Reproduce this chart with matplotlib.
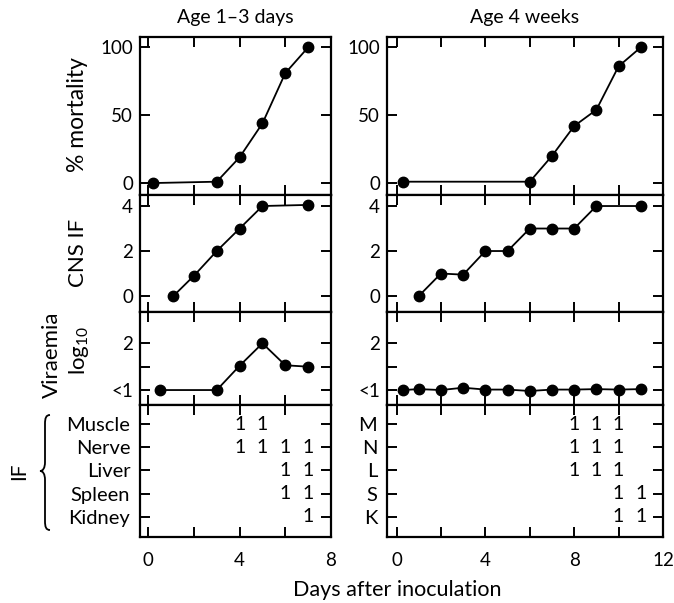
import matplotlib
matplotlib.use('Agg')
import matplotlib.pyplot as plt
from matplotlib.path import Path
from matplotlib.patches import PathPatch

plt.rcParams['font.family'] = ['Lato', 'DejaVu Sans']
plt.rcParams['mathtext.default'] = 'regular'

# ---------------- data ----------------
young_mort_days = [0.2, 3, 4, 5, 6, 7]
young_mort = [0, 1, 19, 44, 81, 100]
old_mort_days = [0.27, 6, 7, 8, 9, 10, 11]
old_mort = [1, 1, 20, 42, 54, 86, 100]

young_cns_days = [1.1, 2, 3, 4, 5, 7]
young_cns = [0, 0.9, 2, 3, 4, 4.05]
old_cns_days = [1, 2, 3, 4, 5, 6, 7, 8, 9, 11]
old_cns = [0, 1, 0.95, 2, 2, 3, 3, 3, 4, 4]

young_vir_days = [0.5, 3, 4, 5, 6, 7]
young_vir = [1, 1, 1.52, 2, 1.53, 1.5]
old_vir_days = [0.3, 1, 2, 3, 4, 5, 6, 7, 8, 9, 10, 11]
old_vir = [1, 1.02, 1, 1.05, 1.01, 1.01, 0.98, 1.01, 1.01, 1.02, 1.01, 1.02]

tissues = ['Muscle', 'Nerve', 'Liver', 'Spleen', 'Kidney']
tissue_abbrev = ['M', 'N', 'L', 'S', 'K']
young_if_days = [[4, 5], [4, 5, 6, 7], [6, 7], [6, 7], [7]]
old_if_days = [[8, 9, 10], [8, 9, 10], [8, 9, 10], [10, 11], [10, 11]]

mort_ticks = [0, 50, 100]
cns_ticks = [0, 2, 4]
vir_ticks = [1, 1.5, 2]
vir_labels = ['<1', '', '2']

titles = ['Age 1–3 days', 'Age 4 weeks']

# ---------------- layout ----------------
W, H = 674, 603
fig = plt.figure(figsize=(W / 100, H / 100), dpi=100)

cols = [(140, 331), (387, 663)]
rows = [(37, 195), (195, 312), (312, 405), (405, 537)]
xlims = [(-0.36, 8.0), (-0.43, 12.0)]
xticks = [[0, 2, 4, 6, 8], [0, 2, 4, 6, 8, 10, 12]]

FS = 13.5


def make_ax(c, r):
    x0, x1 = cols[c]
    y0, y1 = rows[r]
    ax = fig.add_axes([x0 / W, 1 - y1 / H, (x1 - x0) / W, (y1 - y0) / H])
    for s in ax.spines.values():
        s.set_linewidth(1.6)
    ax.tick_params(direction='in', length=7, width=1.4, top=True, right=True,
                   bottom=True, left=True, labelsize=FS, pad=5)
    ax.set_xlim(*xlims[c])
    ax.set_xticks(xticks[c])
    if r == 3:
        ax.set_xticklabels([str(t) if t % 4 == 0 else '' for t in xticks[c]])
        ax.tick_params(axis='x', pad=11)
    else:
        ax.tick_params(labelbottom=False)
    return ax


line_kw = dict(color='black', lw=1.3, marker='o', ms=7.5, mfc='black', mec='black')

for c in range(2):
    # mortality
    ax = make_ax(c, 0)
    if c == 0:
        ax.plot(young_mort_days, young_mort, **line_kw)
    else:
        ax.plot(old_mort_days, old_mort, **line_kw)
    ax.set_ylim(-8.8, 107.6)
    ax.set_yticks(mort_ticks)
    ax.set_yticklabels([str(t) for t in mort_ticks])

    # CNS IF
    ax = make_ax(c, 1)
    if c == 0:
        ax.plot(young_cns_days, young_cns, **line_kw)
    else:
        ax.plot(old_cns_days, old_cns, **line_kw)
    ax.set_ylim(-0.71, 4.49)
    ax.set_yticks(cns_ticks)
    ax.set_yticklabels([str(t) for t in cns_ticks])

    # viraemia
    ax = make_ax(c, 2)
    if c == 0:
        ax.plot(young_vir_days, young_vir, **line_kw)
    else:
        ax.plot(old_vir_days, old_vir, **line_kw)
    ax.set_ylim(0.68, 2.67)
    ax.set_yticks(vir_ticks)
    ax.set_yticklabels(vir_labels)

    # IF table
    ax = make_ax(c, 3)
    ax.set_ylim(4.875, -0.82)
    ax.set_yticks(range(len(tissues)))
    ax.set_yticklabels(tissues if c == 0 else tissue_abbrev)
    ax.tick_params(axis='y', pad=7, labelsize=14.5)
    days_list = young_if_days if c == 0 else old_if_days
    for i, days in enumerate(days_list):
        for d in days:
            ax.text(d, i, '1', ha='center', va='center', fontsize=14)

# titles and labels
fig.text(235.5 / W, 1 - 17 / H, titles[0], ha='center', va='center', fontsize=14)
fig.text(525 / W, 1 - 17 / H, titles[1], ha='center', va='center', fontsize=14)
fig.text(397 / W, 1 - 590 / H, 'Days after inoculation', ha='center', va='center', fontsize=15.5)

fig.text(77 / W, 1 - 115 / H, '% mortality', rotation=90, ha='center', va='center', fontsize=16.5)
fig.text(78 / W, 1 - 253 / H, 'CNS IF', rotation=90, ha='center', va='center', fontsize=16)
fig.text(52 / W, 1 - 355 / H, 'Viraemia', rotation=90, ha='center', va='center', fontsize=16)
fig.text(79 / W, 1 - 350 / H, 'log$_{10}$', rotation=90, ha='center', va='center', fontsize=16)
fig.text(19 / W, 1 - 471 / H, 'IF', rotation=90, ha='center', va='center', fontsize=15)

# curly brace
def P(px, py):
    return (px / W, 1 - py / H)

verts = [P(50, 415), P(46, 415), P(45, 418), P(45, 424),
         P(45, 462),
         P(45, 468), P(43, 471), P(40, 471),
         P(43, 471), P(45, 474), P(45, 480),
         P(45, 521),
         P(45, 527), P(46, 530), P(50, 530)]
codes = [Path.MOVETO, Path.CURVE4, Path.CURVE4, Path.CURVE4,
         Path.LINETO,
         Path.CURVE4, Path.CURVE4, Path.CURVE4,
         Path.CURVE4, Path.CURVE4, Path.CURVE4,
         Path.LINETO,
         Path.CURVE4, Path.CURVE4, Path.CURVE4]
brace = PathPatch(Path(verts, codes), transform=fig.transFigure, fill=False,
                  lw=1.3, color='black')
fig.patches.append(brace)

fig.savefig('out.png', dpi=100)
